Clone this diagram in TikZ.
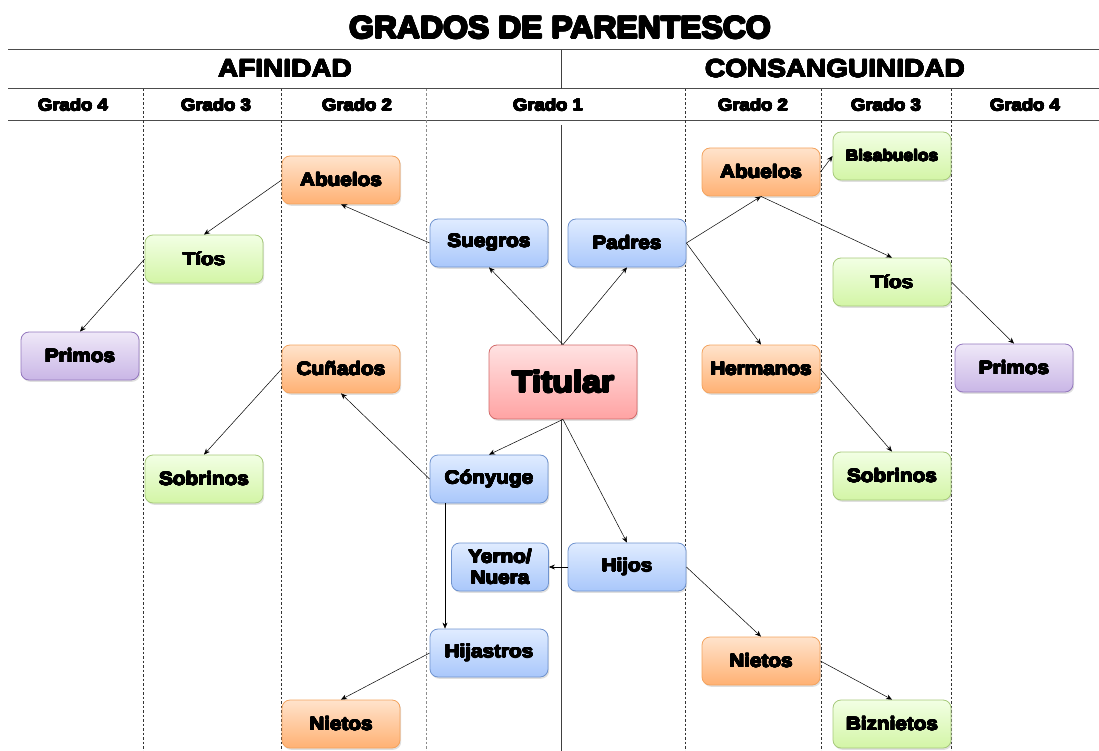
\documentclass[tikz,border=0pt]{standalone}
\usepackage{fontspec}
\usepackage[copies]{contour}
\contournumber{16}
\setmainfont{Liberation Sans}
\newfontfamily\hvfont[FakeStretch=1.12]{Liberation Sans Bold}
\newfontfamily\ttlfont[FakeStretch=1.03]{Liberation Sans Bold}
\newcommand{\hvt}[1]{\contourlength{0.45pt}\contour{black}{#1}}
\newcommand{\hvtt}[1]{\contourlength{0.9pt}\contour{black}{#1}}
\usetikzlibrary{shadows,arrows.meta}
\definecolor{orT}{HTML}{FFE3CC}\definecolor{orB}{HTML}{FFB173}\definecolor{orD}{HTML}{F3A35E}
\definecolor{blT}{HTML}{E0ECFF}\definecolor{blB}{HTML}{A9C7FB}\definecolor{blD}{HTML}{6F93CF}
\definecolor{grT}{HTML}{F2FFE4}\definecolor{grB}{HTML}{D3F5A6}\definecolor{grD}{HTML}{A6C97A}
\definecolor{puT}{HTML}{EFE8F8}\definecolor{puB}{HTML}{C9B6E6}\definecolor{puD}{HTML}{9377BD}
\definecolor{rdT}{HTML}{FFE2E2}\definecolor{rdB}{HTML}{FFA3A3}\definecolor{rdD}{HTML}{D26A6A}
\tikzset{
  box/.style={rounded corners=8pt, minimum width=118pt, minimum height=48pt, inner sep=0pt,
    align=center, line width=0.8pt, font=\hvfont\fontsize{18.5}{21}\selectfont,
    drop shadow={opacity=0.25, shadow xshift=1.2pt, shadow yshift=-1.8pt}},
  orbox/.style={box, draw=orD, top color=orT, bottom color=orB},
  blbox/.style={box, draw=blD, top color=blT, bottom color=blB},
  grbox/.style={box, draw=grD, top color=grT, bottom color=grB},
  pubox/.style={box, draw=puD, top color=puT, bottom color=puB},
  rdbox/.style={box, draw=rdD, top color=rdT, bottom color=rdB},
  arr/.style={-{Stealth[length=6pt,width=5pt]}, line width=0.5pt, black},
  hline/.style={line width=1pt, black!70},
  dline/.style={line width=0.7pt, black!80, dash pattern=on 2.5pt off 2pt},
  sec/.style={font=\hvfont\fontsize{25}{28}\selectfont, inner sep=0pt},
  grd/.style={font=\hvfont\fontsize{16.5}{19}\selectfont, inner sep=0pt},
}
\begin{document}
\begin{tikzpicture}[x=1pt,y=-1pt]
\useasboundingbox (0,0) rectangle (1099,751);
% title
\node[font=\ttlfont\fontsize{31}{33}\selectfont, inner sep=0pt] (title) at (560,28) {\hvtt{GRADOS DE PARENTESCO}};
% frame lines
\draw[hline] (8,50) -- (1099,50);
\draw[hline] (8,89) -- (1099,89);
\draw[hline] (8,121) -- (1099,121);
\draw[line width=0.8pt, black!75] (561,50) -- (561,89);
\draw[line width=0.8pt, black!75] (561,125) -- (561,751);
\foreach \xx in {143,281,685,821,951} \draw[dline] (\xx,89) -- (\xx,751);
\draw[dline, black!45] (426,89) -- (426,751);
% section headers
\node[sec] (afi) at (285,69) {\hvt{AFINIDAD}};
\node[sec] (cons) at (835,69) {\hvt{CONSANGUINIDAD}};
\node[grd] (g4a) at (73,105) {\hvt{Grado 4}};
\node[grd] (g3a) at (216,105) {\hvt{Grado 3}};
\node[grd] (g2a) at (357,105) {\hvt{Grado 2}};
\node[grd] (g1) at (548,105) {\hvt{Grado 1}};
\node[grd] (g2c) at (753,105) {\hvt{Grado 2}};
\node[grd] (g3c) at (886,105) {\hvt{Grado 3}};
\node[grd] (g4c) at (1025,105) {\hvt{Grado 4}};
% nodes
\node[rdbox, minimum width=148pt, minimum height=74pt, font=\hvfont\fontsize{30}{33}\selectfont] (tit) at (563,382) {\hvtt{Titular}};
\node[blbox] (sue) at (489,243) {\hvt{Suegros}};
\node[blbox] (pad) at (627,243) {\hvt{Padres}};
\node[blbox] (con) at (489,479) {\hvt{Cónyuge}};
\node[blbox, minimum width=97pt] (yer) at (500,567) {\hvt{Yerno/}\\\hvt{Nuera}};
\node[blbox] (hij) at (627,567) {\hvt{Hijos}};
\node[blbox] (hja) at (489,653) {\hvt{Hijastros}};
\node[orbox] (ab1) at (341,180) {\hvt{Abuelos}};
\node[orbox] (cun) at (341,369) {\hvt{Cuñados}};
\node[orbox] (ni1) at (341,724) {\hvt{Nietos}};
\node[orbox] (ab2) at (761,172) {\hvt{Abuelos}};
\node[orbox] (her) at (761,369) {\hvt{Hermanos}};
\node[orbox] (ni2) at (761,661) {\hvt{Nietos}};
\node[grbox] (ti1) at (204,259) {\hvt{Tíos}};
\node[grbox] (so1) at (204,479) {\hvt{Sobrinos}};
\node[grbox, font=\hvfont\fontsize{15.5}{18}\selectfont] (bis) at (892,156) {\hvt{Bisabuelos}};
\node[grbox] (ti2) at (892,282) {\hvt{Tíos}};
\node[grbox] (so2) at (892,476) {\hvt{Sobrinos}};
\node[grbox] (biz) at (892,724) {\hvt{Biznietos}};
\node[pubox] (pr1) at (80,356) {\hvt{Primos}};
\node[pubox] (pr2) at (1014,368) {\hvt{Primos}};
% connectors
\draw[arr] (tit.north) -- (sue.south);
\draw[arr] (tit.north) -- (pad.south);
\draw[arr] (sue.west) -- (ab1.south);
\draw[arr] (ab1.west) -- (ti1.north);
\draw[arr] (ti1.west) -- (pr1.north);
\draw[arr] (pad.east) -- (ab2.south);
\draw[arr] (pad.east) -- (her.north);
\draw[arr] (ab2.east) -- (bis.west);
\draw[arr] (ab2.south) -- (ti2.north);
\draw[arr] (ti2.east) -- (pr2.north);
\draw[arr] (her.east) -- (so2.north);
\draw[arr] (tit.south) -- (con.north);
\draw[arr] (tit.south) -- (hij.north);
\draw[arr] (con.west) -- (cun.south);
\draw[arr] (cun.west) -- (so1.north);
\draw[arr] ([xshift=-44pt]con.south) -- ([xshift=-44pt]hja.north);
\draw[arr] (hij.west) -- (yer.east);
\draw[arr] (hja.west) -- (ni1.north);
\draw[arr] (hij.east) -- (ni2.north);
\draw[arr] (ni2.east) -- (biz.north);
\end{tikzpicture}
\end{document}
